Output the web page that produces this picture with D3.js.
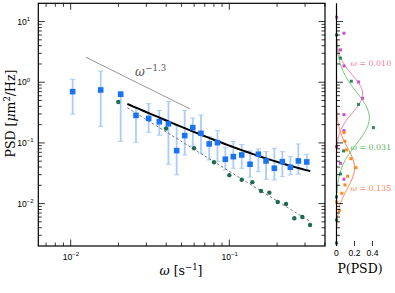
<!DOCTYPE html>
<html><head><meta charset="utf-8">
<script src="https://cdn.jsdelivr.net/npm/d3@7"></script>
<style>body{margin:0;background:#fff}</style></head>
<body>
<svg id="c" width="395" height="293"></svg>
<script>
// ---------- data ----------
const omegaBlue = [0.01029,0.01546,0.02066,0.0258,0.03101,0.03619,0.04134,0.04656,0.05233,0.05882,0.06628,0.07469,0.0842,0.0944,0.106,0.1197,0.1351,0.1524,0.1704,0.1922,0.2159,0.2425,0.2724,0.3076];
const psdBlue   = [0.70,0.746,0.634,0.284,0.253,0.2234,0.207,0.0746,0.132,0.1786,0.144,0.0962,0.101,0.0538,0.0594,0.0633,0.0445,0.065,0.0504,0.0382,0.0491,0.0397,0.0504,0.0486];
const errHigh   = [1.12,1.52,0.70,0.387,0.444,0.343,0.479,0.193,0.343,0.258,0.289,0.127,0.1606,0.0849,0.1057,0.0944,0.0738,0.0796,0.0718,0.0817,0.0718,0.0594,0.0962,0.065];
const errLow    = [0.297,0.188,0.1066,0.1026,0.150,0.134,0.0445,0.0297,0.0633,0.089,0.0676,0.0524,0.0491,0.0358,0.0382,0.0382,0.0272,0.0336,0.0252,0.0245,0.0278,0.0297,0.0305,0.0358];

const omegaGreen = [0.01995,0.0399,0.0599,0.0801,0.1,0.1197,0.1396,0.1585,0.1788,0.2019,0.2278,0.257,0.2886,0.3228];
const psdGreen   = [0.4735,0.1732,0.0817,0.048,0.0294,0.0247,0.02256,0.01616,0.01515,0.01064,0.00987,0.00573,0.00602,0.00445];

// fits / guides
const solidFitParams = [0.00507, 1.17, 0.0153];   // A, alpha, C : PSD = A*w^-alpha + C
const solidFitRange  = [0.02275, 0.324];
const dashOmega = [0.02275, 0.324];
const dashPsd   = [0.38, 0.00504];
const guideOmega = [0.01249, 0.05653];
const guidePsd   = [2.58, 0.363];
const guideLabel = "\u2212" + "1.3";

// right panel distributions
const distLabels = ["\u03c9 = 0.010", "\u03c9 = 0.031", "\u03c9 = 0.135"];
const distMu     = [-0.193, -0.588, -1.4125];   // log10 PSD
const distSigma  = [0.313, 0.4285, 0.338];
const distAmp    = [0.29, 0.365, 0.20];
const histPinkPsd  = [11.79,6.42,3.41,1.857,1.011,0.545,0.2924,0.1593,0.0868,0.0462,0.0252];
const histPinkP    = [0.002,0.083,0.044,0.083,0.244,0.29,0.083,0.083,0.0,0.044,0.083];
const histGreenPsd = [6.02,2.496,1.039,0.4305,0.1786,0.0738,0.0308,0.01286,0.00537,0.002246];
const histGreenP   = [0.0,0.044,0.165,0.244,0.41,0.078,0.044,0.0,0.0,0.0];
const histOrangePsd= [0.1476,0.1066,0.0766,0.055,0.0391,0.02823,0.0203,0.0148,0.01064,0.0077];
const histOrangeP  = [0.083,0.094,0.11,0.16,0.217,0.124,0.094,0.06,0.002,0.033];

const xTickMajor = [0.01, 0.1];
const xTickExp = ["\u22122", "\u22121"];
const yTickMajor = [0.01, 0.1, 1, 10];
const yTickExp = ["\u22122", "\u22121", "0", "1"];
const pTicks = [0, 0.2, 0.4];
const pTickLabels = ["0", "0.2", "0.4"];

// ---------- layout ----------
const svg = d3.select("#c");
const L = 38.3, R = 325, T = 3.3, B = 246;
const x = d3.scaleLog().domain([0.00625, 0.401]).range([L, R]);
const y = d3.scaleLog().domain([0.002, 20]).range([B, T]);
const PL = 336.5;
const xp = d3.scaleLinear().domain([0, 0.4]).range([PL, 372.5]);

const minorVals = (dom) => {
  const out = [];
  for (let e = -4; e <= 2; e++) for (let m = 2; m <= 9; m++) {
    const v = m * Math.pow(10, e);
    if (v > dom[0] * 1.0001 && v < dom[1] * 0.9999) out.push(v);
  }
  return out;
};
const serif = "'DejaVu Serif', serif";
const sans = "'Liberation Sans', Arial, sans-serif";

const g = svg.append("g");

// guide line
g.append("line")
  .attr("x1", x(guideOmega[0])).attr("y1", y(guidePsd[0]))
  .attr("x2", x(guideOmega[1])).attr("y2", y(guidePsd[1]))
  .attr("stroke", "#8a8a8a").attr("stroke-width", 0.9);
const gl = g.append("text").attr("font-family", serif).attr("fill", "#555")
  .attr("x", 135).attr("y", 75.5);
gl.append("tspan").attr("font-size", 12).attr("font-style", "italic").text("\u03c9");
gl.append("tspan").attr("font-size", 8.6).attr("dy", -4.5).attr("dx", 0.5).text(guideLabel);

// error bars
const errC = "#a9cdf7";
omegaBlue.forEach((w, i) => {
  const cx = x(w);
  g.append("line").attr("x1", cx).attr("x2", cx).attr("y1", y(errLow[i])).attr("y2", y(errHigh[i]))
    .attr("stroke", errC).attr("stroke-width", 1.8);
  [errLow[i], errHigh[i]].forEach(v => {
    g.append("line").attr("x1", cx - 2.6).attr("x2", cx + 2.6).attr("y1", y(v)).attr("y2", y(v))
      .attr("stroke", errC).attr("stroke-width", 1);
  });
});

// dashed fit
g.append("line")
  .attr("x1", x(dashOmega[0])).attr("y1", y(dashPsd[0]))
  .attr("x2", x(dashOmega[1])).attr("y2", y(dashPsd[1]))
  .attr("stroke", "#7a7a7a").attr("stroke-width", 1).attr("stroke-dasharray", "2.6,2.2");

// green dots
g.selectAll(".gd").data(omegaGreen).join("circle")
  .attr("cx", d => x(d)).attr("cy", (d, i) => y(psdGreen[i])).attr("r", 2.2)
  .attr("fill", "#1e6b52");

// solid fit
const [A, al, C] = solidFitParams;
const fitPts = d3.range(0, 61).map(k => {
  const w = Math.exp(Math.log(solidFitRange[0]) + k / 60 * (Math.log(solidFitRange[1]) - Math.log(solidFitRange[0])));
  return [w, A * Math.pow(w, -al) + C];
});
g.append("path").attr("d", d3.line().x(d => x(d[0])).y(d => y(d[1]))(fitPts))
  .attr("fill", "none").attr("stroke", "#000").attr("stroke-width", 2);

// blue squares
const s = 5.6;
g.selectAll(".bs").data(omegaBlue).join("rect")
  .attr("x", d => x(d) - s / 2).attr("y", (d, i) => y(psdBlue[i]) - s / 2)
  .attr("width", s).attr("height", s).attr("fill", "#1a73f2");

// ---------- main axes ----------
const ax = svg.append("g").attr("stroke", "#000");
ax.append("rect").attr("x", L).attr("y", T).attr("width", R - L).attr("height", B - T)
  .attr("fill", "none").attr("stroke-width", 1.2);
const tick = (x1, y1, x2, y2) => ax.append("line").attr("x1", x1).attr("y1", y1).attr("x2", x2).attr("y2", y2).attr("stroke-width", 0.8);
xTickMajor.forEach(v => { tick(x(v), B, x(v), B - 6.5); tick(x(v), T, x(v), T + 6.5); });
minorVals(x.domain()).forEach(v => { tick(x(v), B, x(v), B - 3.5); tick(x(v), T, x(v), T + 3.5); });
yTickMajor.forEach(v => { tick(L, y(v), L + 6.5, y(v)); tick(R, y(v), R - 6.5, y(v)); });
minorVals(y.domain()).forEach(v => { tick(L, y(v), L + 3.5, y(v)); tick(R, y(v), R - 3.5, y(v)); });

// tick labels
xTickMajor.forEach((v, i) => {
  const t = svg.append("text").attr("font-family", sans).attr("font-size", 8.6).attr("fill", "#000")
    .attr("x", x(v) + 0.3).attr("y", 260).attr("text-anchor", "middle");
  t.append("tspan").text("10");
  t.append("tspan").attr("font-size", 6).attr("dy", -3.8).text(xTickExp[i]);
});
yTickMajor.forEach((v, i) => {
  const t = svg.append("text").attr("font-family", sans).attr("font-size", 8.6).attr("fill", "#000")
    .attr("x", 17.3).attr("y", y(v) + 3.1);
  t.append("tspan").text("10");
  t.append("tspan").attr("font-size", 6).attr("dy", -3.8).text(yTickExp[i]);
});

// axis labels
const yl = svg.append("text").attr("font-family", serif).attr("font-size", 12.5).attr("fill", "#000")
  .attr("text-anchor", "middle").attr("transform", "translate(14.5,113.5) rotate(-90)");
yl.append("tspan").text("PSD [");
yl.append("tspan").attr("font-style", "italic").text("\u03bc");
yl.append("tspan").text("m");
yl.append("tspan").attr("font-size", 8.5).attr("dy", -5).text("2");
yl.append("tspan").attr("dy", 5).text("/Hz]");

const xl = svg.append("text").attr("font-family", serif).attr("font-size", 12.5).attr("fill", "#000")
  .attr("x", 181).attr("y", 274.5).attr("text-anchor", "middle");
xl.append("tspan").attr("font-style", "italic").text("\u03c9");
xl.append("tspan").text(" [s");
xl.append("tspan").attr("font-size", 8.5).attr("dy", -5).text("\u22121");
xl.append("tspan").attr("dy", 5).text("]");

// ---------- right panel ----------
const rp = svg.append("g");
const distColors = ["#f2789c", "#6cc46c", "#ff7d4d"];
const labelColors = ["#f27a9e", "#52b552", "#ff7f50"];
const histSets = [[histPinkPsd, histPinkP, "#c94fcf"], [histGreenPsd, histGreenP, "#2b8a5e"], [histOrangePsd, histOrangeP, "#ff8a14"]];

distMu.forEach((mu, i) => {
  const sg = distSigma[i];
  const pts = d3.range(0, 121).map(k => {
    const l = mu - 2.9 * sg + k / 120 * 5.8 * sg;
    return [Math.pow(10, l), distAmp[i] * Math.exp(-((l - mu) ** 2) / (2 * sg * sg))];
  });
  rp.append("path").attr("d", d3.line().x(d => xp(d[1])).y(d => y(d[0]))(pts))
    .attr("fill", "none").attr("stroke", distColors[i]).attr("stroke-width", 1);
});
histSets.forEach(([ps, pv, col]) => {
  rp.selectAll(null).data(ps).join("rect")
    .attr("x", (d, k) => xp(pv[k]) - 1.5).attr("y", d => y(d) - 1.5)
    .attr("width", 3).attr("height", 3).attr("fill", col);
});
const labelY = [66, 150, 191];
distLabels.forEach((t, i) => {
  const tx = rp.append("text").attr("font-family", serif).attr("font-size", 7.9).attr("fill", labelColors[i])
    .attr("x", 350.5).attr("y", labelY[i]);
  tx.append("tspan").attr("font-style", "italic").text(t.slice(0, 1));
  tx.append("tspan").text(t.slice(1));
});

// right axis
const ra = svg.append("g").attr("stroke", "#000");
ra.append("line").attr("x1", PL).attr("x2", PL).attr("y1", T).attr("y2", B).attr("stroke-width", 1.2);
yTickMajor.forEach(v => ra.append("line").attr("x1", PL).attr("x2", PL + 6.5).attr("y1", y(v)).attr("y2", y(v)).attr("stroke-width", 0.8));
minorVals(y.domain()).forEach(v => ra.append("line").attr("x1", PL).attr("x2", PL + 3.5).attr("y1", y(v)).attr("y2", y(v)).attr("stroke-width", 0.8));
pTicks.forEach(v => ra.append("line").attr("x1", xp(v)).attr("x2", xp(v)).attr("y1", B).attr("y2", B - 5).attr("stroke-width", 0.8));
pTicks.forEach((v, i) => svg.append("text").attr("font-family", sans).attr("font-size", 8.6)
  .attr("x", xp(v)).attr("y", 256).attr("text-anchor", "middle").text(pTickLabels[i]));
svg.append("text").attr("font-family", serif).attr("font-size", 12.5).attr("text-anchor", "middle")
  .attr("x", 360).attr("y", 272.5).text("P(PSD)");
</script>
</body></html>
